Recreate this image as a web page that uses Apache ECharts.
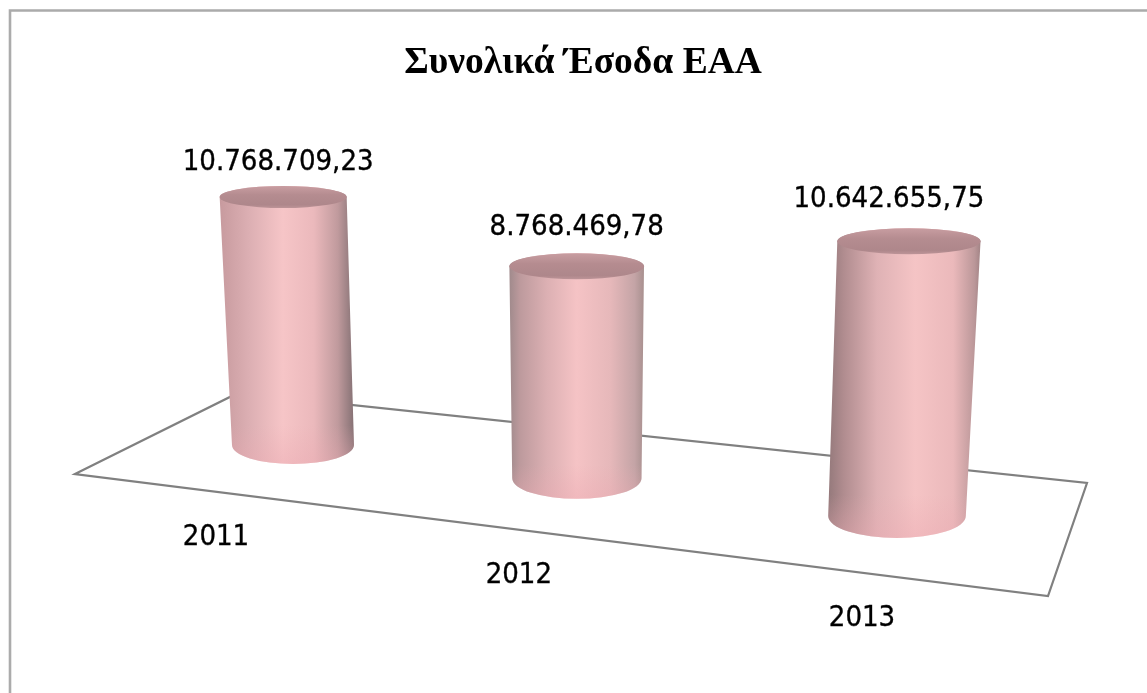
<!DOCTYPE html>
<html>
<head>
<meta charset="utf-8">
<style>html,body{margin:0;padding:0;background:#fff}#chart{width:1147px;height:693px}</style>
<script src="https://cdn.jsdelivr.net/npm/echarts@6/dist/echarts.min.js"></script>
</head>
<body>
<div id="chart"></div>
<script>
// Total revenue per year
const chartTitle = 'Συνολικά Έσοδα ΕΑΑ';
const years = ['2011', '2012', '2013'];
const revenue = [10768709.23, 8768469.78, 10642655.75];

// Perspective plane carrying the cylinder axes: corners of the value plane on screen
const axisMax = 12000000;
const planeCorners = [[293, 445], [897, 516], [910.5, 204.7], [282, 167.6]];
const floorOutline = [[75, 474], [238, 393], [1087, 483], [1048, 596]];

// Cylinder geometry and text placement, per year
const topRadiusX = 63.5, baseRadiusX = 61;
const topRadiusY = [11, 13, 13];
const baseRadiusY = [19, 20.5, 22];
const valueLabelOffset = [[-5, -35], [0, -39], [-20, -42]];
const yearLabelOffset = [[-77, 92], [-58, 97], [-35, 102]];

// Side shading of each cylinder, left to right
const sideShades = [
  [[0, '#c79a9e'], [0.22, '#dcafb3'], [0.47, '#f6c5c7'], [0.7, '#ebb9bc'], [0.88, '#c09a9d'], [1, '#857174']],
  [[0, '#a08a8c'], [0.08, '#bd9a9d'], [0.28, '#dcb0b3'], [0.5, '#f5c3c5'], [0.75, '#e6b8ba'], [0.93, '#c4a4a6'], [1, '#a8908f']],
  [[0, '#94797b'], [0.1, '#b08c8f'], [0.32, '#dfb2b5'], [0.57, '#f5c4c5'], [0.82, '#ebb9bb'], [0.96, '#bb9799'], [1, '#a28486']]
];
const capShade = [[0, '#c89da1'], [0.4, '#b58c90'], [0.85, '#ae878b'], [1, '#bd9498']];

// Projective map from the unit square onto the plane corners
function unitSquareToQuad(q) {
  const [[x0, y0], [x1, y1], [x2, y2], [x3, y3]] = q;
  const dx1 = x1 - x2, dx2 = x3 - x2, sx = x0 - x1 + x2 - x3;
  const dy1 = y1 - y2, dy2 = y3 - y2, sy = y0 - y1 + y2 - y3;
  const det = dx1 * dy2 - dx2 * dy1;
  const g = (sx * dy2 - dx2 * sy) / det;
  const h = (dx1 * sy - sx * dy1) / det;
  const a = x1 - x0 + g * x1, b = x3 - x0 + h * x3;
  const d = y1 - y0 + g * y1, e = y3 - y0 + h * y3;
  const map = (u, v) => {
    const w = g * u + h * v + 1;
    return [(a * u + b * v + x0) / w, (d * u + e * v + y0) / w];
  };
  map.depth = u => 1 / (g * u + 1);
  return map;
}
const project = unitSquareToQuad(planeCorners);

function formatAmount(v) {
  const [whole, frac] = v.toFixed(2).split('.');
  return whole.replace(/\B(?=(\d{3})+$)/g, '.') + ',' + frac;
}

function renderCylinder(params, api) {
  const i = api.value(0);
  const value = api.value(1);
  const sys = params.coordSys;
  const toPlane = p => [(p[0] - sys.x) / sys.width, (sys.y + sys.height - p[1]) / sys.height];
  const baseFlat = toPlane(api.coord([i, 0]));
  const topFlat = toPlane(api.coord([i, value]));
  const base = project(baseFlat[0], baseFlat[1]);
  const top = project(topFlat[0], topFlat[1]);
  const scale = project.depth(baseFlat[0]);
  const brx = baseRadiusX * scale, trx = topRadiusX * scale;
  const bry = baseRadiusY[i], tryy = topRadiusY[i];

  const side = `M${top[0] - trx} ${top[1]} A${trx} ${tryy} 0 0 1 ${top[0] + trx} ${top[1]}` +
    ` L${base[0] + brx} ${base[1]} A${brx} ${bry} 0 0 1 ${base[0] - brx} ${base[1]} Z`;
  const cap = `M${top[0] - trx} ${top[1]} A${trx} ${tryy} 0 0 1 ${top[0] + trx} ${top[1]}` +
    ` A${trx} ${tryy} 0 0 1 ${top[0] - trx} ${top[1]} Z`;
  const toStops = s => s.map(([offset, color]) => ({ offset, color }));
  const textStyle = { fontFamily: '"DejaVu Sans Condensed", "DejaVu Sans"', fontSize: 29, fill: '#000',
    stroke: '#000', lineWidth: 0.35, align: 'center', verticalAlign: 'middle' };

  return {
    type: 'group',
    children: [
      { type: 'path', shape: { pathData: side },
        style: { fill: new echarts.graphic.LinearGradient(0, 0, 1, 0, toStops(sideShades[i])) } },
      // Warm reflection fading in towards the lower rim
      { type: 'path', shape: { pathData: side },
        style: { fill: new echarts.graphic.LinearGradient(0, 0, 0, 1, [
          { offset: 0.86, color: 'rgba(235,170,178,0)' },
          { offset: 1, color: 'rgba(235,170,178,0.42)' }
        ]) } },
      { type: 'path', shape: { pathData: cap },
        style: { fill: new echarts.graphic.LinearGradient(0, 0, 0, 1, toStops(capShade)) } },
      { type: 'text', style: Object.assign({ text: formatAmount(value),
        x: top[0] + valueLabelOffset[i][0], y: top[1] + valueLabelOffset[i][1] }, textStyle) },
      { type: 'text', style: Object.assign({ text: years[i],
        x: base[0] + yearLabelOffset[i][0], y: base[1] + yearLabelOffset[i][1] }, textStyle) }
    ]
  };
}

const chart = echarts.init(document.getElementById('chart'), null, { renderer: 'canvas' });
chart.setOption({
  animation: false,
  backgroundColor: '#fff',
  title: {
    text: chartTitle,
    left: 578, top: 39, textAlign: 'center',
    textStyle: { fontFamily: '"Liberation Serif"', fontWeight: 'bold', fontSize: 37.5, color: '#000' }
  },
  graphic: [
    { type: 'polyline', z: 0, shape: { points: [[10, 800], [10, 10.5], [1200, 10.5]] },
      style: { fill: null, stroke: '#ababab', lineWidth: 2.6 } },
    { type: 'polygon', z: 0, shape: { points: floorOutline },
      style: { fill: '#fff', stroke: '#808080', lineWidth: 2.2 } }
  ],
  grid: { left: 100, right: 100, top: 100, bottom: 100 },
  xAxis: { type: 'category', data: years, boundaryGap: false, show: false },
  yAxis: { type: 'value', min: 0, max: axisMax, show: false },
  series: [{
    type: 'custom',
    clip: false,
    silent: true,
    data: revenue.map((v, i) => [i, v]),
    encode: { x: 0, y: 1 },
    renderItem: renderCylinder
  }]
});
</script>
</body>
</html>
